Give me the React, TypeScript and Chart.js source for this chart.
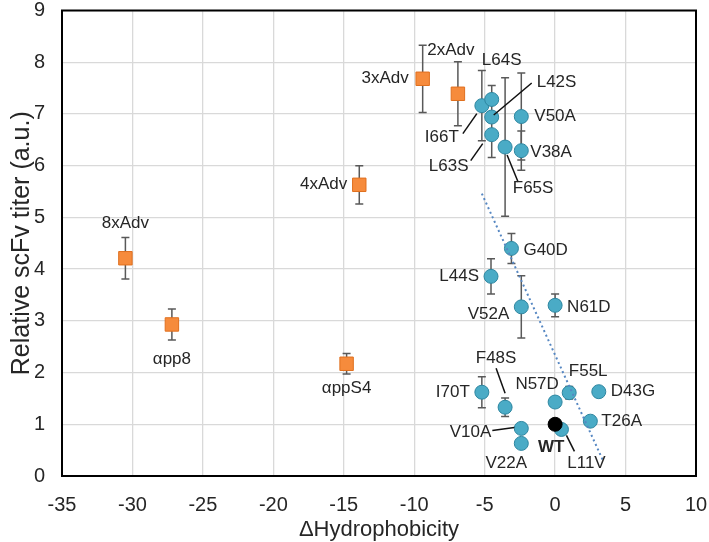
import { useEffect, useRef } from "react";
import { Chart, Plugin, registerables } from "chart.js";

Chart.register(...registerables);

// engineered variants (orange squares)
const advNames = ["8xAdv", "αpp8", "4xAdv", "αppS4", "3xAdv", "2xAdv"];
const advX = [-30.5, -27.2, -13.9, -14.8, -9.4, -6.9];
const advY = [4.21, 2.93, 5.63, 2.17, 7.68, 7.39];
const advErr = [0.4, 0.3, 0.37, 0.2, 0.65, 0.62];

// single mutants (blue circles)
const mutNames = [
  "I66T", "L64S", "L42S", "L63S", "F65S", "V50A", "V38A",
  "G40D", "L44S", "V52A", "N61D", "I70T", "F48S", "N57D",
  "F55L", "D43G", "T26A", "L11V", "V10A", "V22A",
];
const mutX = [
  -5.2, -4.5, -4.5, -4.5, -3.55, -2.4, -2.4,
  -3.1, -4.55, -2.4, 0, -5.2, -3.55, 0,
  1.0, 3.1, 2.5, 0.45, -2.4, -2.4,
];
const mutY = [
  7.16, 7.28, 6.94, 6.6, 6.36, 6.95, 6.29,
  4.4, 3.86, 3.27, 3.3, 1.62, 1.33, 1.43,
  1.61, 1.63, 1.06, 0.9, 0.92, 0.63,
];
const mutErr = [
  0.68, 0.27, 0, 0.44, 1.34, 0.84, 0.38,
  0.29, 0.34, 0.6, 0.22, 0.3, 0.18, 0,
  0.12, 0, 0, 0, 0, 0,
];

// wild type
const wtNames = ["WT"];
const wtX = [0];
const wtY = [1.0];

// dotted trend line end points
const trendX = [-5.2, 3.43];
const trendY = [5.46, 0.28];

const FONT = "'Liberation Sans', Arial, sans-serif";
const TEXT = "#262626";

type Place = {
  dx: number;
  dy: number;
  align: CanvasTextAlign;
  lead?: [number, number, number, number];
  bold?: boolean;
};

// label offsets in pixels from the marker centre
const place: Record<string, Place> = {
  "8xAdv": { dx: 0, dy: -35, align: "center" },
  "αpp8": { dx: 0, dy: 35, align: "center" },
  "4xAdv": { dx: -12, dy: 0, align: "right" },
  "αppS4": { dx: 0, dy: 25, align: "center" },
  "3xAdv": { dx: -14, dy: 0, align: "right" },
  "2xAdv": { dx: -7, dy: -43, align: "center" },
  L64S: { dx: 10, dy: -39, align: "center" },
  L42S: { dx: 45, dy: -35, align: "left", lead: [2, -2, 40, -34] },
  I66T: { dx: -40, dy: 32, align: "center", lead: [-5, 8, -19, 28] },
  L63S: { dx: -43, dy: 32, align: "center", lead: [-9, 9, -21, 26] },
  V50A: { dx: 13, dy: 0, align: "left" },
  V38A: { dx: 9, dy: 2, align: "left" },
  F65S: { dx: 28, dy: 41, align: "center", lead: [2, 8, 13, 35] },
  G40D: { dx: 12, dy: 2, align: "left" },
  L44S: { dx: -12, dy: 0, align: "right" },
  V52A: { dx: -12, dy: 7, align: "right" },
  N61D: { dx: 12, dy: 2, align: "left" },
  I70T: { dx: -12, dy: 0, align: "right" },
  F48S: { dx: -9, dy: -49, align: "center", lead: [-9, -39, 0, -14] },
  N57D: { dx: -18, dy: -18, align: "center" },
  F55L: { dx: 19, dy: -21, align: "center" },
  D43G: { dx: 12, dy: 0, align: "left" },
  T26A: { dx: 11, dy: 0, align: "left" },
  L11V: { dx: 25, dy: 34, align: "center", lead: [5, 6, 13, 22] },
  V10A: { dx: -30, dy: 4, align: "right", lead: [-29, 2, -7, -1] },
  V22A: { dx: -15, dy: 20, align: "center" },
  WT: { dx: -4, dy: 23, align: "center", bold: true },
};

const toPoints = (xs: number[], ys: number[]) =>
  xs.map((x, i) => ({ x, y: ys[i] }));

const frameAndErrors: Plugin = {
  id: "frameAndErrors",
  beforeDatasetsDraw(chart) {
    const { ctx, chartArea, scales } = chart;
    const sx = scales.x;
    const sy = scales.y;
    ctx.save();
    ctx.strokeStyle = "#000";
    ctx.lineWidth = 2;
    ctx.strokeRect(chartArea.left, chartArea.top, chartArea.width, chartArea.height);

    ctx.strokeStyle = "#595959";
    ctx.lineWidth = 1.5;
    const groups: [number[], number[], number[]][] = [
      [advX, advY, advErr],
      [mutX, mutY, mutErr],
    ];
    for (const [xs, ys, es] of groups) {
      xs.forEach((xv, i) => {
        const e = es[i];
        if (!e) return;
        const px = sx.getPixelForValue(xv);
        const top = sy.getPixelForValue(ys[i] + e);
        const bot = sy.getPixelForValue(ys[i] - e);
        ctx.beginPath();
        ctx.moveTo(px, top);
        ctx.lineTo(px, bot);
        ctx.moveTo(px - 4, top);
        ctx.lineTo(px + 4, top);
        ctx.moveTo(px - 4, bot);
        ctx.lineTo(px + 4, bot);
        ctx.stroke();
      });
    }
    ctx.restore();
  },
};

const pointLabels: Plugin = {
  id: "pointLabels",
  afterDatasetsDraw(chart) {
    const { ctx, scales } = chart;
    const sx = scales.x;
    const sy = scales.y;
    ctx.save();
    const groups: [string[], number[], number[]][] = [
      [advNames, advX, advY],
      [mutNames, mutX, mutY],
      [wtNames, wtX, wtY],
    ];
    for (const [names, xs, ys] of groups) {
      names.forEach((name, i) => {
        const p = place[name];
        if (!p) return;
        const px = sx.getPixelForValue(xs[i]);
        const py = sy.getPixelForValue(ys[i]);
        if (p.lead) {
          ctx.strokeStyle = "#111";
          ctx.lineWidth = 1.5;
          ctx.beginPath();
          ctx.moveTo(px + p.lead[0], py + p.lead[1]);
          ctx.lineTo(px + p.lead[2], py + p.lead[3]);
          ctx.stroke();
        }
        ctx.fillStyle = TEXT;
        ctx.font = `${p.bold ? "bold " : ""}17px ${FONT}`;
        ctx.textAlign = p.align;
        ctx.textBaseline = "middle";
        ctx.fillText(name, px + p.dx, py + p.dy);
      });
    }
    ctx.restore();
  },
};

// keep the plot area fixed: drop the extra room Chart.js reserves for edge labels
const noEdgePadding = (s: any) => {
  s.paddingLeft = 0;
  s.paddingRight = 0;
  s.paddingTop = 0;
  s.paddingBottom = 0;
};

export default function App() {
  const canvasRef = useRef<HTMLCanvasElement | null>(null);

  useEffect(() => {
    if (!canvasRef.current) return;
    const chart = new Chart(canvasRef.current, {
      type: "scatter",
      data: {
        datasets: [
          {
            label: "trend",
            data: toPoints(trendX, trendY),
            showLine: true,
            borderColor: "#5687c2",
            borderWidth: 2,
            borderDash: [2, 3],
            pointRadius: 0,
          },
          {
            label: "WT",
            data: toPoints(wtX, wtY),
            pointStyle: "circle",
            pointRadius: 7,
            backgroundColor: "#000",
            borderColor: "#000",
            borderWidth: 1,
          },
          {
            label: "mutants",
            data: toPoints(mutX, mutY),
            pointStyle: "circle",
            pointRadius: 7,
            backgroundColor: "#4aabc6",
            borderColor: "#2e86a0",
            borderWidth: 1,
          },
          {
            label: "engineered",
            data: toPoints(advX, advY),
            pointStyle: "rect",
            pointRadius: 9.5,
            backgroundColor: "#f68b3c",
            borderColor: "#e0701f",
            borderWidth: 1,
          },
        ],
      },
      options: {
        animation: false,
        responsive: true,
        maintainAspectRatio: false,
        layout: { padding: { left: 0, top: 9.5, right: 13, bottom: 0 } },
        plugins: {
          legend: { display: false },
          tooltip: { enabled: false },
        },
        scales: {
          x: {
            type: "linear",
            min: -35,
            max: 10,
            ticks: {
              stepSize: 5,
              color: TEXT,
              padding: 17,
              font: { family: FONT, size: 20 },
            },
            grid: { color: "#d9d9d9", lineWidth: 1.3, drawTicks: false },
            border: { color: "#000", width: 2 },
            title: {
              display: true,
              text: "ΔHydrophobicity",
              color: TEXT,
              font: { family: FONT, size: 22, lineHeight: 1.1 },
              padding: 0,
            },
            afterFit: (s) => {
              s.height = 66;
              noEdgePadding(s);
            },
          },
          y: {
            type: "linear",
            min: 0,
            max: 9,
            ticks: {
              stepSize: 1,
              color: TEXT,
              padding: 17,
              font: { family: FONT, size: 20 },
            },
            grid: { color: "#d9d9d9", lineWidth: 1.3, drawTicks: false },
            border: { color: "#000", width: 2 },
            title: {
              display: true,
              text: "Relative scFv titer (a.u.)",
              color: TEXT,
              font: { family: FONT, size: 25, lineHeight: 1.2 },
              padding: { top: 7, bottom: 0 },
            },
            afterFit: (s) => {
              s.width = 62;
              noEdgePadding(s);
            },
          },
        },
      },
      plugins: [frameAndErrors, pointLabels],
    });
    return () => chart.destroy();
  }, []);

  return (
    <div
      style={{
        position: "fixed",
        left: 0,
        top: 0,
        width: 709,
        height: 542,
        background: "#fff",
      }}
    >
      <canvas ref={canvasRef} />
    </div>
  );
}
